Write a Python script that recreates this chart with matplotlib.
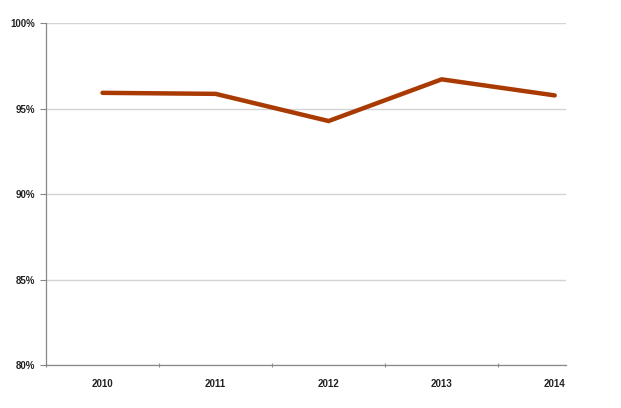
import matplotlib
matplotlib.use("Agg")
import matplotlib.pyplot as plt
from matplotlib.ticker import FixedLocator

years = ["2010", "2011", "2012", "2013", "2014"]
values = [95.93, 95.87, 94.28, 96.72, 95.78]
yticks = [80, 85, 90, 95, 100]
ytick_labels = ["80%", "85%", "90%", "95%", "100%"]

plt.rcParams['font.family'] = ['Liberation Sans', 'DejaVu Sans']

fig = plt.figure(figsize=(6.21, 4.08), dpi=100)
ax = fig.add_axes([46/621, 43/408, (566-46)/621, (365-23.3)/408])

x = list(range(len(years)))
ax.plot(x, values, color="#A93B02", linewidth=3.2, solid_capstyle="round", solid_joinstyle="miter", zorder=3)

ax.set_xlim(-0.5, 4.1)
ax.set_ylim(80, 100)

ax.set_yticks(yticks)
ax.set_yticklabels(ytick_labels)
ax.set_xticks(x)
ax.set_xticklabels(years)
ax.xaxis.set_minor_locator(FixedLocator([-0.5, 0.5, 1.5, 2.5, 3.5]))

ax.tick_params(axis='x', which='major', length=0, pad=10, labelsize=7, colors="#222222")
ax.tick_params(axis='x', which='minor', length=3, width=0.8, color="#888888", direction='inout')
ax.tick_params(axis='y', which='major', length=4, width=0.8, color="#888888", pad=4, labelsize=7, labelcolor="#222222")

for lab in ax.get_xticklabels() + ax.get_yticklabels():
    lab.set_fontweight('bold')

ax.grid(axis='y', color="#D4D4D4", linewidth=1.0, zorder=0)
ax.set_axisbelow(True)

for side in ['top', 'right']:
    ax.spines[side].set_visible(False)
ax.spines['left'].set_color("#888888")
ax.spines['bottom'].set_color("#888888")
ax.spines['left'].set_linewidth(0.9)
ax.spines['bottom'].set_linewidth(0.9)

fig.savefig("out.png", dpi=100)
